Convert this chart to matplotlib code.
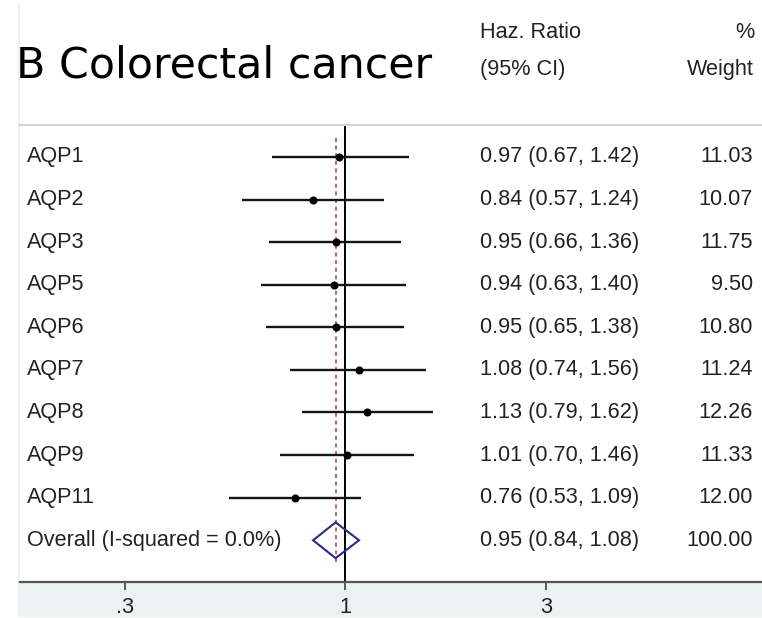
import matplotlib.pyplot as plt
from matplotlib.transforms import blended_transform_factory
from matplotlib.patches import Rectangle, Polygon
from matplotlib.lines import Line2D

# Study rows (top to bottom)
labels = ['AQP1', 'AQP2', 'AQP3', 'AQP5', 'AQP6', 'AQP7', 'AQP8', 'AQP9', 'AQP11']
hr = [0.97, 0.84, 0.95, 0.94, 0.95, 1.08, 1.13, 1.01, 0.76]
ci_low = [0.67, 0.57, 0.66, 0.63, 0.65, 0.74, 0.79, 0.70, 0.53]
ci_high = [1.42, 1.24, 1.36, 1.40, 1.38, 1.56, 1.62, 1.46, 1.09]
weights = [11.03, 10.07, 11.75, 9.50, 10.80, 11.24, 12.26, 11.33, 12.00]

# Pooled estimate
overall_label = 'Overall (I-squared = 0.0%)'
overall_hr = 0.95
overall_low = 0.84
overall_high = 1.08
overall_weight = 100.00

tick_vals = [0.3, 1, 3]
tick_labels = ['.3', '1', '3']

W, H = 762, 618
FONT = 'Liberation Sans'
fs = 15.6
bg = '#eaf2f3'

fig = plt.figure(figsize=(W / 100, H / 100), dpi=100)

def fx(px):
    return px / W

def fy(py):
    return 1 - py / H

# light graph-region strip at the bottom and faint left edge (behind the axes)
fig.patches.append(Rectangle((fx(18), fy(616)), fx(W - 18), (616 - 583) / H,
                             transform=fig.transFigure, color=bg, zorder=-5))
fig.lines.append(Line2D([fx(18.5), fx(18.5)], [fy(5), fy(616)],
                        transform=fig.transFigure, color=bg, lw=1.5, zorder=-5))

ax = fig.add_axes([fx(20), fy(582), fx(W - 20), (582 - 125) / H])
ax.set_xscale('log')
ax.set_xlim(0.1689, 9.80)
ax.set_ylim(0.02, 10.75)
ax.patch.set_alpha(0)

n = len(labels)
ys = [n + 1 - i for i in range(n)]  # 10 ... 2
y_overall = 1

# reference line at 1 and dashed line at pooled estimate
ax.axvline(1, color='black', lw=1.4, zorder=2)
ax.plot([overall_hr, overall_hr], [0.5, 10.5], color='#c0304a', lw=1.1,
        dashes=(2.6, 2.4), zorder=3)

# confidence intervals and point estimates
ax.hlines(ys, ci_low, ci_high, color='#151515', lw=1.7, zorder=4)
ax.plot(hr, ys, 'o', color='black', markersize=4.8, zorder=5)

# pooled diamond
dh = 0.42
diamond = Polygon([(overall_low, y_overall), (overall_hr, y_overall + dh),
                   (overall_high, y_overall), (overall_hr, y_overall - dh)],
                  closed=True, fill=False, edgecolor='#2a2a8c', lw=1.5, zorder=5)
ax.add_patch(diamond)

# axis styling
for side in ['left', 'right']:
    ax.spines[side].set_visible(False)
ax.spines['top'].set_color('#d2d6d8')
ax.spines['top'].set_linewidth(1.6)
ax.spines['bottom'].set_color('#555555')
ax.spines['bottom'].set_linewidth(1.6)
ax.set_yticks([])
ax.set_xticks(tick_vals)
ax.set_xticklabels(tick_labels, fontfamily=FONT, fontsize=fs, color='#222222')
ax.xaxis.set_minor_locator(plt.NullLocator())
ax.tick_params(axis='x', direction='out', length=6, width=1.1,
               color='#333333', pad=5)

# text columns
tr = blended_transform_factory(fig.transFigure, ax.transData)
txt = dict(fontfamily=FONT, fontsize=fs, color='#222222', va='center',
           transform=tr)
for y, lab, h, lo, hi, w in zip(ys, labels, hr, ci_low, ci_high, weights):
    ax.text(fx(27), y, lab, ha='left', **txt)
    ax.text(fx(480), y, f'{h:.2f} ({lo:.2f}, {hi:.2f})', ha='left', **txt)
    ax.text(fx(753), y, f'{w:.2f}', ha='right', **txt)

ax.text(fx(27), y_overall, overall_label, ha='left', **txt)
ax.text(fx(480), y_overall,
        f'{overall_hr:.2f} ({overall_low:.2f}, {overall_high:.2f})', ha='left', **txt)
ax.text(fx(753), y_overall, f'{overall_weight:.2f}', ha='right', **txt)

# header
hdr = dict(fontfamily=FONT, fontsize=fs, color='#222222', va='center',
           transform=fig.transFigure)
fig.text(fx(480), fy(32), 'Haz. Ratio', ha='left', **hdr)
fig.text(fx(480), fy(69), '(95% CI)', ha='left', **hdr)
fig.text(fx(754), fy(32), '%', ha='right', **hdr)
fig.text(fx(754), fy(69), 'Weight', ha='right', **hdr)
fig.text(fx(16), fy(65), 'B Colorectal cancer', ha='left', va='center',
         fontfamily='DejaVu Sans', fontsize=30.8, color='black')

fig.savefig('out.png', dpi=100)
